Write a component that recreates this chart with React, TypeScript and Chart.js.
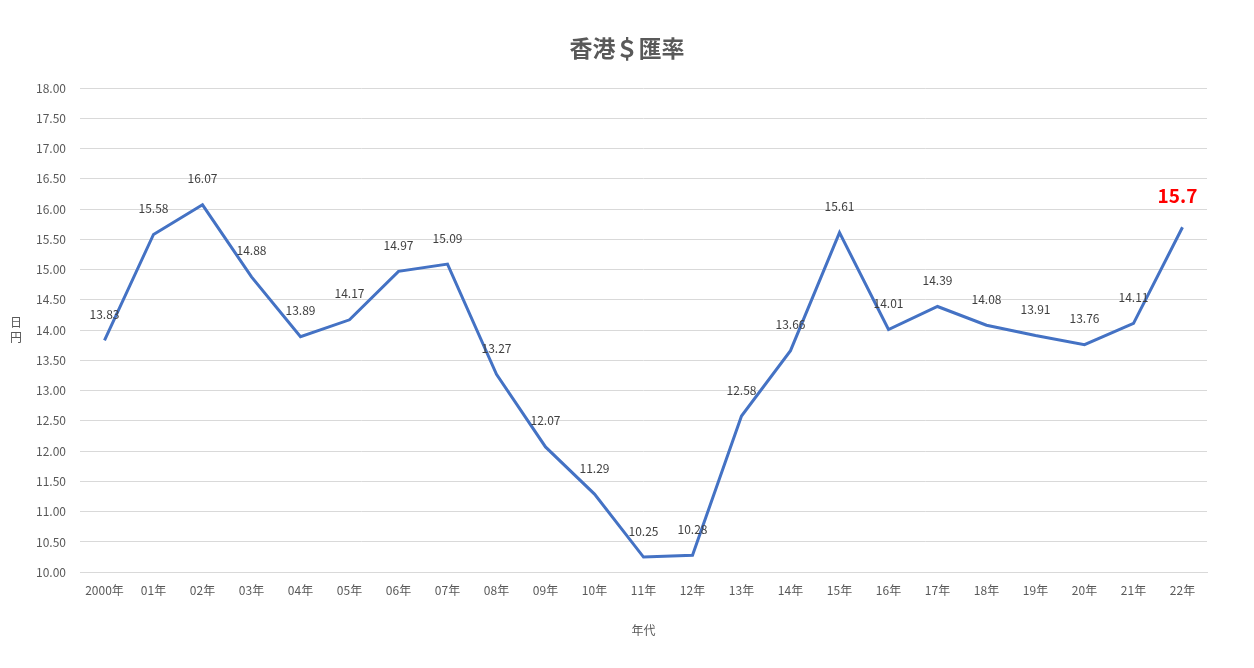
import React, { useEffect, useRef } from 'react';
import { Chart, registerables } from 'chart.js';

Chart.register(...registerables);

const years = ['2000年', '01年', '02年', '03年', '04年', '05年', '06年', '07年', '08年', '09年', '10年', '11年', '12年', '13年', '14年', '15年', '16年', '17年', '18年', '19年', '20年', '21年', '22年'];
const rates = [13.83, 15.58, 16.07, 14.88, 13.89, 14.17, 14.97, 15.09, 13.27, 12.07, 11.29, 10.25, 10.28, 12.58, 13.66, 15.61, 14.01, 14.39, 14.08, 13.91, 13.76, 14.11, 15.7];
const yTitleChars = ['日', '円'];
const chartTitle = '香港＄匯率';

const FONT = '"Noto Sans CJK JP", sans-serif';

// value labels above each point, last one in big red
const pointLabels = {
  id: 'pointLabels',
  afterDatasetsDraw(chart: Chart) {
    const { ctx } = chart;
    const meta = chart.getDatasetMeta(0);
    ctx.save();
    ctx.textAlign = 'center';
    ctx.textBaseline = 'middle';
    meta.data.forEach((pt, i) => {
      const last = i === rates.length - 1;
      if (last) {
        ctx.font = `bold 19px ${FONT}`;
        ctx.fillStyle = '#ff0000';
        ctx.fillText(String(rates[i]), pt.x - 5, pt.y - 31);
      } else {
        ctx.font = `12px ${FONT}`;
        ctx.fillStyle = '#404040';
        ctx.fillText(rates[i].toFixed(2), pt.x, pt.y - 26);
      }
    });
    ctx.restore();
  },
};

// page-centred title and stacked vertical y-axis title
const titles = {
  id: 'titles',
  afterDraw(chart: Chart) {
    const { ctx, chartArea, width } = chart;
    ctx.save();
    ctx.textAlign = 'center';
    ctx.textBaseline = 'middle';
    ctx.fillStyle = '#595959';
    ctx.font = `bold 23px ${FONT}`;
    ctx.fillText(chartTitle, width / 2, 48);
    ctx.font = `12px ${FONT}`;
    const mid = (chartArea.top + chartArea.bottom) / 2;
    yTitleChars.forEach((c, i) => {
      ctx.fillText(c, 16, mid - 8 + i * 15);
    });
    ctx.restore();
  },
};

export default function App() {
  const canvasRef = useRef<HTMLCanvasElement>(null);

  useEffect(() => {
    document.body.style.margin = '0';
    if (!canvasRef.current) return;
    const chart = new Chart(canvasRef.current, {
      type: 'line',
      data: {
        labels: years,
        datasets: [{
          data: rates,
          borderColor: '#4472c4',
          borderWidth: 3,
          pointRadius: 0,
          tension: 0,
        }],
      },
      options: {
        animation: false,
        responsive: true,
        maintainAspectRatio: false,
        layout: { padding: { top: 88, left: 0, right: 47, bottom: 0 } },
        plugins: {
          legend: { display: false },
          tooltip: { enabled: false },
          title: { display: false },
        },
        scales: {
          x: {
            offset: true,
            grid: { display: false },
            border: { color: '#d9d9d9' },
            ticks: { color: '#595959', font: { family: FONT, size: 12 }, padding: 3, maxRotation: 0 },
            title: {
              display: true,
              text: '年代',
              color: '#595959',
              font: { family: FONT, size: 12 },
              padding: { top: 23, bottom: 30 },
            },
          },
          y: {
            min: 10,
            max: 18,
            afterFit: (s: any) => { s.width = 80; },
            grid: { color: '#d9d9d9', drawTicks: false },
            border: { display: false },
            ticks: {
              stepSize: 0.5,
              color: '#595959',
              font: { family: FONT, size: 12 },
              padding: 14,
              callback: (v: any) => Number(v).toFixed(2),
            },
          },
        },
      },
      plugins: [pointLabels, titles],
    });
    return () => chart.destroy();
  }, []);

  return (
    <div style={{ width: 1254, height: 668, position: 'relative', background: '#fff' }}>
      <canvas ref={canvasRef} />
    </div>
  );
}
